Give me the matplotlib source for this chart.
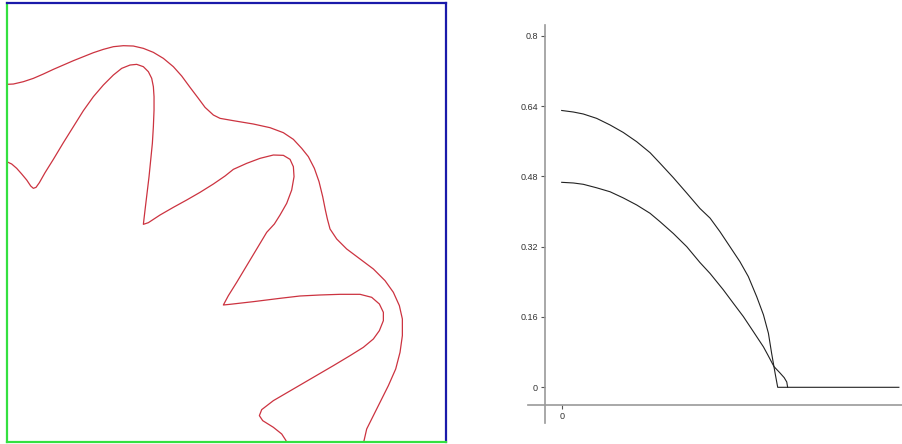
import matplotlib
matplotlib.use("Agg")
import matplotlib.pyplot as plt

plt.rcParams['font.family'] = ['Liberation Sans', 'DejaVu Sans']

# --- left panel: two red contour lines, box coords (0..1317 x 0..1319) ---
outer_x = [0, 20, 50, 80, 110, 140, 170, 200, 230, 260, 290, 320, 350, 380, 410,
           440, 470, 500, 525, 550, 575, 595, 620, 640, 680, 740, 790, 830, 860,
           885, 905, 923, 937, 948, 956, 962, 970, 990, 1020, 1060, 1100, 1135,
           1160, 1178, 1187, 1187, 1180, 1167, 1145, 1120, 1095, 1080, 1072, 1070]
outer_y = [1074, 1075, 1082, 1092, 1105, 1119, 1132, 1145, 1157, 1169, 1179, 1187,
           1190, 1189, 1182, 1170, 1152, 1127, 1099, 1065, 1032, 1005, 982, 972,
           965, 955, 944, 929, 909, 882, 857, 822, 782, 737, 697, 670, 640, 610,
           580, 550, 520, 485, 450, 410, 370, 320, 270, 220, 170, 120, 70, 40, 5, 0]

inner_x = [0, 15, 30, 45, 60, 72, 80, 88, 98, 115, 140, 170, 200, 230, 260, 290,
           320, 345, 370, 390, 410, 425, 435, 440, 442, 442, 440, 437, 432, 427,
           421, 415, 410, 425, 460, 500, 540, 580, 620, 655, 680, 720, 760, 800,
           830, 850, 860, 862, 855, 840, 820, 803, 780, 750, 720, 690, 665, 650,
           670, 740, 820, 880, 940, 1000, 1060, 1095, 1118, 1130, 1130, 1118, 1100,
           1070, 1030, 980, 920, 860, 800, 765, 758, 768, 800, 825, 838, 838]
inner_y = [842, 835, 822, 805, 787, 769, 762, 765, 779, 809, 849, 899, 947, 995,
           1037, 1072, 1102, 1122, 1132, 1134, 1127, 1112, 1092, 1067, 1037, 997,
           947, 897, 847, 797, 747, 697, 654, 659, 682, 705, 727, 750, 775, 799,
           819, 837, 852, 862, 861, 849, 827, 797, 757, 717, 682, 655, 630, 580,
           530, 480, 440, 412, 414, 422, 432, 439, 442, 444, 444, 435, 415, 390,
           365, 335, 310, 285, 260, 230, 195, 160, 125, 98, 80, 65, 45, 25, 5, 0]

# --- right panel: two decaying profiles ---
upper_x = [0, 0.054, 0.100, 0.162, 0.224, 0.285, 0.347, 0.409, 0.455, 0.517,
           0.579, 0.640, 0.687, 0.733, 0.779, 0.825, 0.864, 0.903, 0.934, 0.957,
           0.972, 0.988, 1.0, 1.561]
upper_y = [0.630, 0.6265, 0.622, 0.612, 0.597, 0.580, 0.559, 0.534, 0.510, 0.477,
           0.442, 0.407, 0.385, 0.354, 0.320, 0.286, 0.252, 0.206, 0.165, 0.123,
           0.077, 0.032, 0.0, 0.0]

lower_x = [0, 0.054, 0.100, 0.162, 0.224, 0.285, 0.347, 0.409, 0.455, 0.517,
           0.579, 0.640, 0.687, 0.748, 0.795, 0.841, 0.887, 0.934, 0.955, 0.983,
           1.010, 1.030, 1.042, 1.046]
lower_y = [0.4665, 0.465, 0.462, 0.454, 0.445, 0.431, 0.415, 0.396, 0.377, 0.350,
           0.320, 0.284, 0.259, 0.222, 0.191, 0.161, 0.127, 0.092, 0.073, 0.047,
           0.033, 0.022, 0.012, 0.0]

y_ticks = [0, 0.16, 0.32, 0.48, 0.64, 0.8]
y_tick_labels = ["0", "0.16", "0.32", "0.48", "0.64", "0.8"]
x_ticks = [0]
x_tick_labels = ["0"]

W, H = 902, 444
fig = plt.figure(figsize=(W / 100, H / 100), dpi=100)

# left box
ax1 = fig.add_axes([6.7 / W, (H - 442.3) / H, 439 / W, 439.6 / H])
ax1.plot(outer_x, outer_y, color="#cc3340", lw=0.9)
ax1.plot(inner_x, inner_y, color="#cc3340", lw=0.9)
ax1.set_xlim(0, 1317)
ax1.set_ylim(0, 1319)
ax1.set_xticks([])
ax1.set_yticks([])
for side, col in [("left", "#33e040"), ("bottom", "#33e040"),
                  ("top", "#1a1aaa"), ("right", "#1a1aaa")]:
    ax1.spines[side].set_color(col)
    ax1.spines[side].set_linewidth(1.6)

# right plot, axes spanning the grey axis lines
px_x0, px_per_x = 561.7, 216.0
px_y0, px_per_y = 387.3, 439.4
left_px, right_px, top_px, bot_px = 528, 902, 25, 423
ax2 = fig.add_axes([left_px / W, (H - bot_px) / H,
                    (right_px - left_px) / W, (bot_px - top_px) / H])
ax2.plot(upper_x, upper_y, color="#222222", lw=0.8)
ax2.plot(lower_x, lower_y, color="#222222", lw=0.8)
ax2.set_xlim((left_px - px_x0) / px_per_x, (right_px - px_x0) / px_per_x)
ax2.set_ylim((px_y0 - bot_px) / px_per_y, (px_y0 - top_px) / px_per_y)

ax2.spines["top"].set_visible(False)
ax2.spines["right"].set_visible(False)
ax2.spines["left"].set_position(("data", (545 - px_x0) / px_per_x))
ax2.spines["bottom"].set_position(("data", (px_y0 - 405) / px_per_y))
for side in ["left", "bottom"]:
    ax2.spines[side].set_color("#999999")
    ax2.spines[side].set_linewidth(1.2)

ax2.set_yticks(y_ticks)
ax2.set_yticklabels(y_tick_labels)
ax2.set_xticks(x_ticks)
ax2.set_xticklabels(x_tick_labels)
ax2.tick_params(axis="both", length=3, width=0.8, color="#555555",
                labelsize=6.5, labelcolor="#333333", pad=2)

fig.savefig("out.png", dpi=100)
